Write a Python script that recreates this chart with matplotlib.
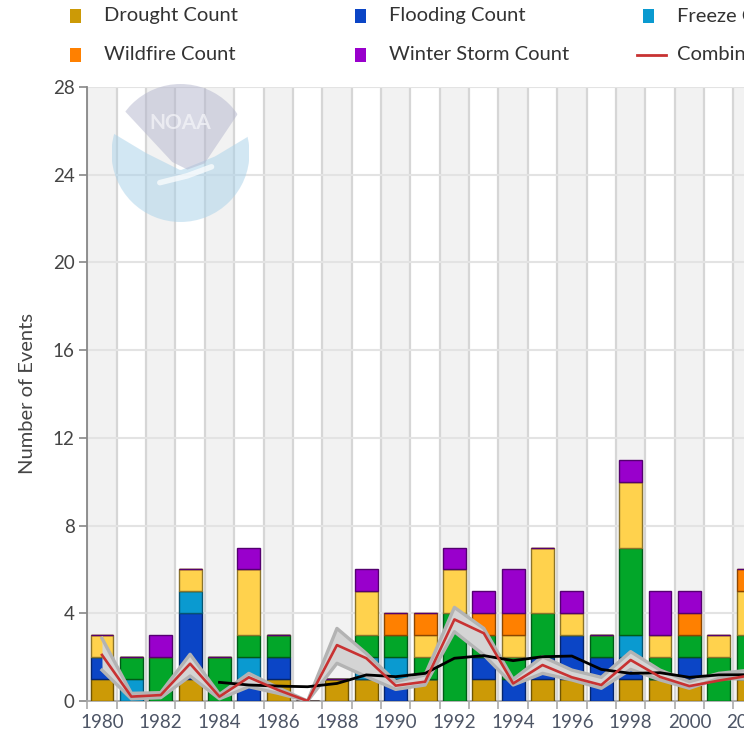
import numpy as np
import matplotlib
matplotlib.use("Agg")
import matplotlib.pyplot as plt
from matplotlib.patches import Rectangle, Circle, Polygon
from matplotlib import colors as mcolors

plt.rcParams["font.family"] = ["Lato", "DejaVu Sans"]

years = np.arange(1980, 2003)

drought = [1, 0, 0, 1, 0, 0, 1, 0, 1, 1, 0, 1, 0, 1, 0, 1, 1, 0, 1, 1, 1, 0, 1]
flooding = [1, 0, 0, 3, 0, 1, 1, 0, 0, 0, 1, 0, 0, 1, 1, 1, 2, 2, 1, 0, 1, 0, 0]
freeze = [0, 1, 0, 1, 0, 1, 0, 0, 0, 1, 1, 0, 0, 0, 0, 0, 0, 0, 1, 0, 0, 0, 0]
severe_storm = [0, 1, 2, 0, 2, 1, 1, 0, 0, 1, 1, 1, 4, 1, 1, 2, 0, 1, 4, 1, 1, 2, 2]
tropical_cyclone = [1, 0, 0, 1, 0, 3, 0, 0, 0, 2, 0, 1, 2, 0, 1, 3, 1, 0, 3, 1, 0, 1, 2]
wildfire = [0, 0, 0, 0, 0, 0, 0, 0, 0, 0, 1, 1, 0, 1, 1, 0, 0, 0, 0, 0, 1, 0, 1]
winter_storm = [0, 0, 1, 0, 0, 1, 0, 0, 0, 1, 0, 0, 1, 1, 2, 0, 1, 0, 1, 2, 1, 0, 0]

combined = [2.1, 0.2, 0.27, 1.7, 0.2, 1.08, 0.5, 0.0, 2.55, 1.95, 0.7, 0.88, 3.72, 3.09,
            0.8, 1.64, 1.08, 0.73, 1.87, 1.1, 0.68, 0.93, 1.15]
combined_hi = [2.86, 0.35, 0.38, 2.13, 0.3, 1.26, 0.6, 0.0, 3.31, 2.17, 0.88, 1.19, 4.27, 3.31,
               0.99, 2.02, 1.41, 1.08, 2.25, 1.41, 0.88, 1.26, 1.4]
combined_lo = [1.41, 0.1, 0.15, 1.14, 0.1, 0.65, 0.35, 0.0, 1.72, 1.11, 0.53, 0.73, 3.16, 2.1,
               0.73, 1.26, 0.96, 0.58, 1.44, 0.96, 0.58, 1.03, 1.0]
avg_years = np.arange(1984, 2003)
five_year_avg = [0.85, 0.73, 0.68, 0.65, 0.8, 1.19, 1.11, 1.26, 1.95, 2.07, 1.84, 2.02,
                 2.05, 1.44, 1.26, 1.29, 1.08, 1.19, 1.2]

series = [
    ("Drought Count", drought, "#cc9a06"),
    ("Flooding Count", flooding, "#0b45c6"),
    ("Freeze Count", freeze, "#0a9ad0"),
    ("Severe Storm Count", severe_storm, "#02a629"),
    ("Tropical Cyclone Count", tropical_cyclone, "#ffd24d"),
    ("Wildfire Count", wildfire, "#ff8000"),
    ("Winter Storm Count", winter_storm, "#9900cc"),
]


def darker(color, f=0.55):
    r, g, b = mcolors.to_rgb(color)
    return (r * f, g * f, b * f)


W, H = 744, 736
px = 29.37  # pixels per year
fig = plt.figure(figsize=(W / 100, H / 100), dpi=100)
ax = fig.add_axes([87.3 / W, 35 / H, 25 * px / W, 614 / H])
ax.set_xlim(1979.5, 2004.5)
ax.set_ylim(0, 28)

for y in years:
    if y % 2 == 0:
        ax.axvspan(y - 0.5, y + 0.5, color="#f2f2f2", zorder=0, lw=0)
ax.axvspan(2003.5, 2004.5, color="#f2f2f2", zorder=0, lw=0)

bottom = np.zeros(len(years))
for name, vals, col in series:
    vals = np.array(vals, dtype=float)
    ax.bar(years, vals, 0.78, bottom=bottom, color=col, edgecolor=darker(col),
           linewidth=1.0, zorder=3)
    bottom += vals

ax.fill_between(years, combined_lo, combined_hi, color="#d4d4d4", zorder=4, lw=0)
ax.plot(years, combined_hi, color="#b3b3b3", lw=2.4, zorder=5)
ax.plot(years, combined_lo, color="#b3b3b3", lw=2.4, zorder=5)
ax.plot(avg_years, five_year_avg, color="black", lw=2.0, zorder=6)
ax.plot(years, combined, color="#c83232", lw=1.9, zorder=7)

ax.set_yticks(np.arange(0, 29, 4))
ax.set_xticks(np.arange(1980, 2005, 2))
ax.set_xticks(np.arange(1979.5, 2005, 1), minor=True)
ax.tick_params(axis="x", which="major", length=0, pad=9, labelsize=13.5, labelcolor="#4d5566")
ax.tick_params(axis="x", which="minor", length=6, color="#aaaaaa", width=1.2)
ax.tick_params(axis="y", length=6, color="#888888", width=1.2, pad=3, labelsize=13.5,
               labelcolor="#444444")
ax.grid(axis="y", which="major", color="#e3e3e3", lw=1.5, zorder=1)
ax.grid(axis="x", which="minor", color="#d6d6d6", lw=1.6, zorder=1)
ax.set_axisbelow(True)
for s in ["top", "right"]:
    ax.spines[s].set_visible(False)
ax.spines["left"].set_color("#888888")
ax.spines["left"].set_linewidth(1.3)
ax.spines["bottom"].set_color("#aaaaaa")
ax.spines["bottom"].set_linewidth(1.3)
ax.set_ylabel("Number of Events", fontsize=14.5, color="#444444", labelpad=12)

# faded NOAA watermark
lax = fig.add_axes([(180.5 - 69) / W, (H - 153 - 69) / H, 138 / W, 138 / H], zorder=5)
lax.set_xlim(-1, 1)
lax.set_ylim(-1, 1)
lax.axis("off")
circ = Circle((0, 0), 1, fc="none", lw=0)
lax.add_patch(circ)
t = np.linspace(-1, 1, 80)
low_curve = np.interp(t, [-1, -0.5, 0, 0.5, 1], [0.3, 0.0, -0.25, -0.05, 0.25])
blue = Polygon(np.column_stack([np.concatenate([t, t[::-1]]),
                                np.concatenate([low_curve, -np.ones_like(t)])]),
               closed=True, color="#a7d1e9", alpha=0.5, lw=0)
lax.add_patch(blue)
blue.set_clip_path(circ)
lav = Polygon([(-0.85, 0.75), (-0.8, 0.6), (-0.12, -0.13), (0.1, -0.24), (0.35, -0.15),
               (0.82, 0.55), (0.9, 0.75), (0.9, 1.1), (-0.9, 1.1)],
              closed=True, color="#b3b5cd", alpha=0.5, lw=0)
lax.add_patch(lav)
lav.set_clip_path(circ)
lax.plot([-0.3, 0.1, 0.45], [-0.43, -0.33, -0.2], color="white", lw=4, alpha=0.7,
         solid_capstyle="round")
lax.text(0, 0.44, "NOAA", ha="center", va="center", fontsize=15, fontweight="bold",
         color="#f4f4f8", alpha=0.75)

# legend
legend_cols = [70, 355, 643, 930, 1215]
legend_rows = [16, 55]
extra = [("Combined Cost", "#c83232"), ("5-Year Cost Average", "black"),
         ("Cost 95% CI", "#b3b3b3")]
entries = [(n, c, "box") for n, _, c in series] + [(n, c, "line") for n, c in extra]
for i, (name, col, kind) in enumerate(entries):
    cx = legend_cols[i % 5]
    cy = legend_rows[i // 5]
    if kind == "box":
        fig.add_artist(Rectangle((cx / W, 1 - (cy + 7) / H), 11 / W, 14 / H,
                                 transform=fig.transFigure, color=col, lw=0))
    else:
        fig.add_artist(plt.Line2D([(cx - 6) / W, (cx + 23) / W], [1 - cy / H, 1 - cy / H],
                                  transform=fig.transFigure, color=col, lw=2))
    fig.text((cx + 34) / W, 1 - cy / H, name, ha="left", va="center", fontsize=14.5,
             color="#333333")

fig.savefig("out.png", dpi=100)
